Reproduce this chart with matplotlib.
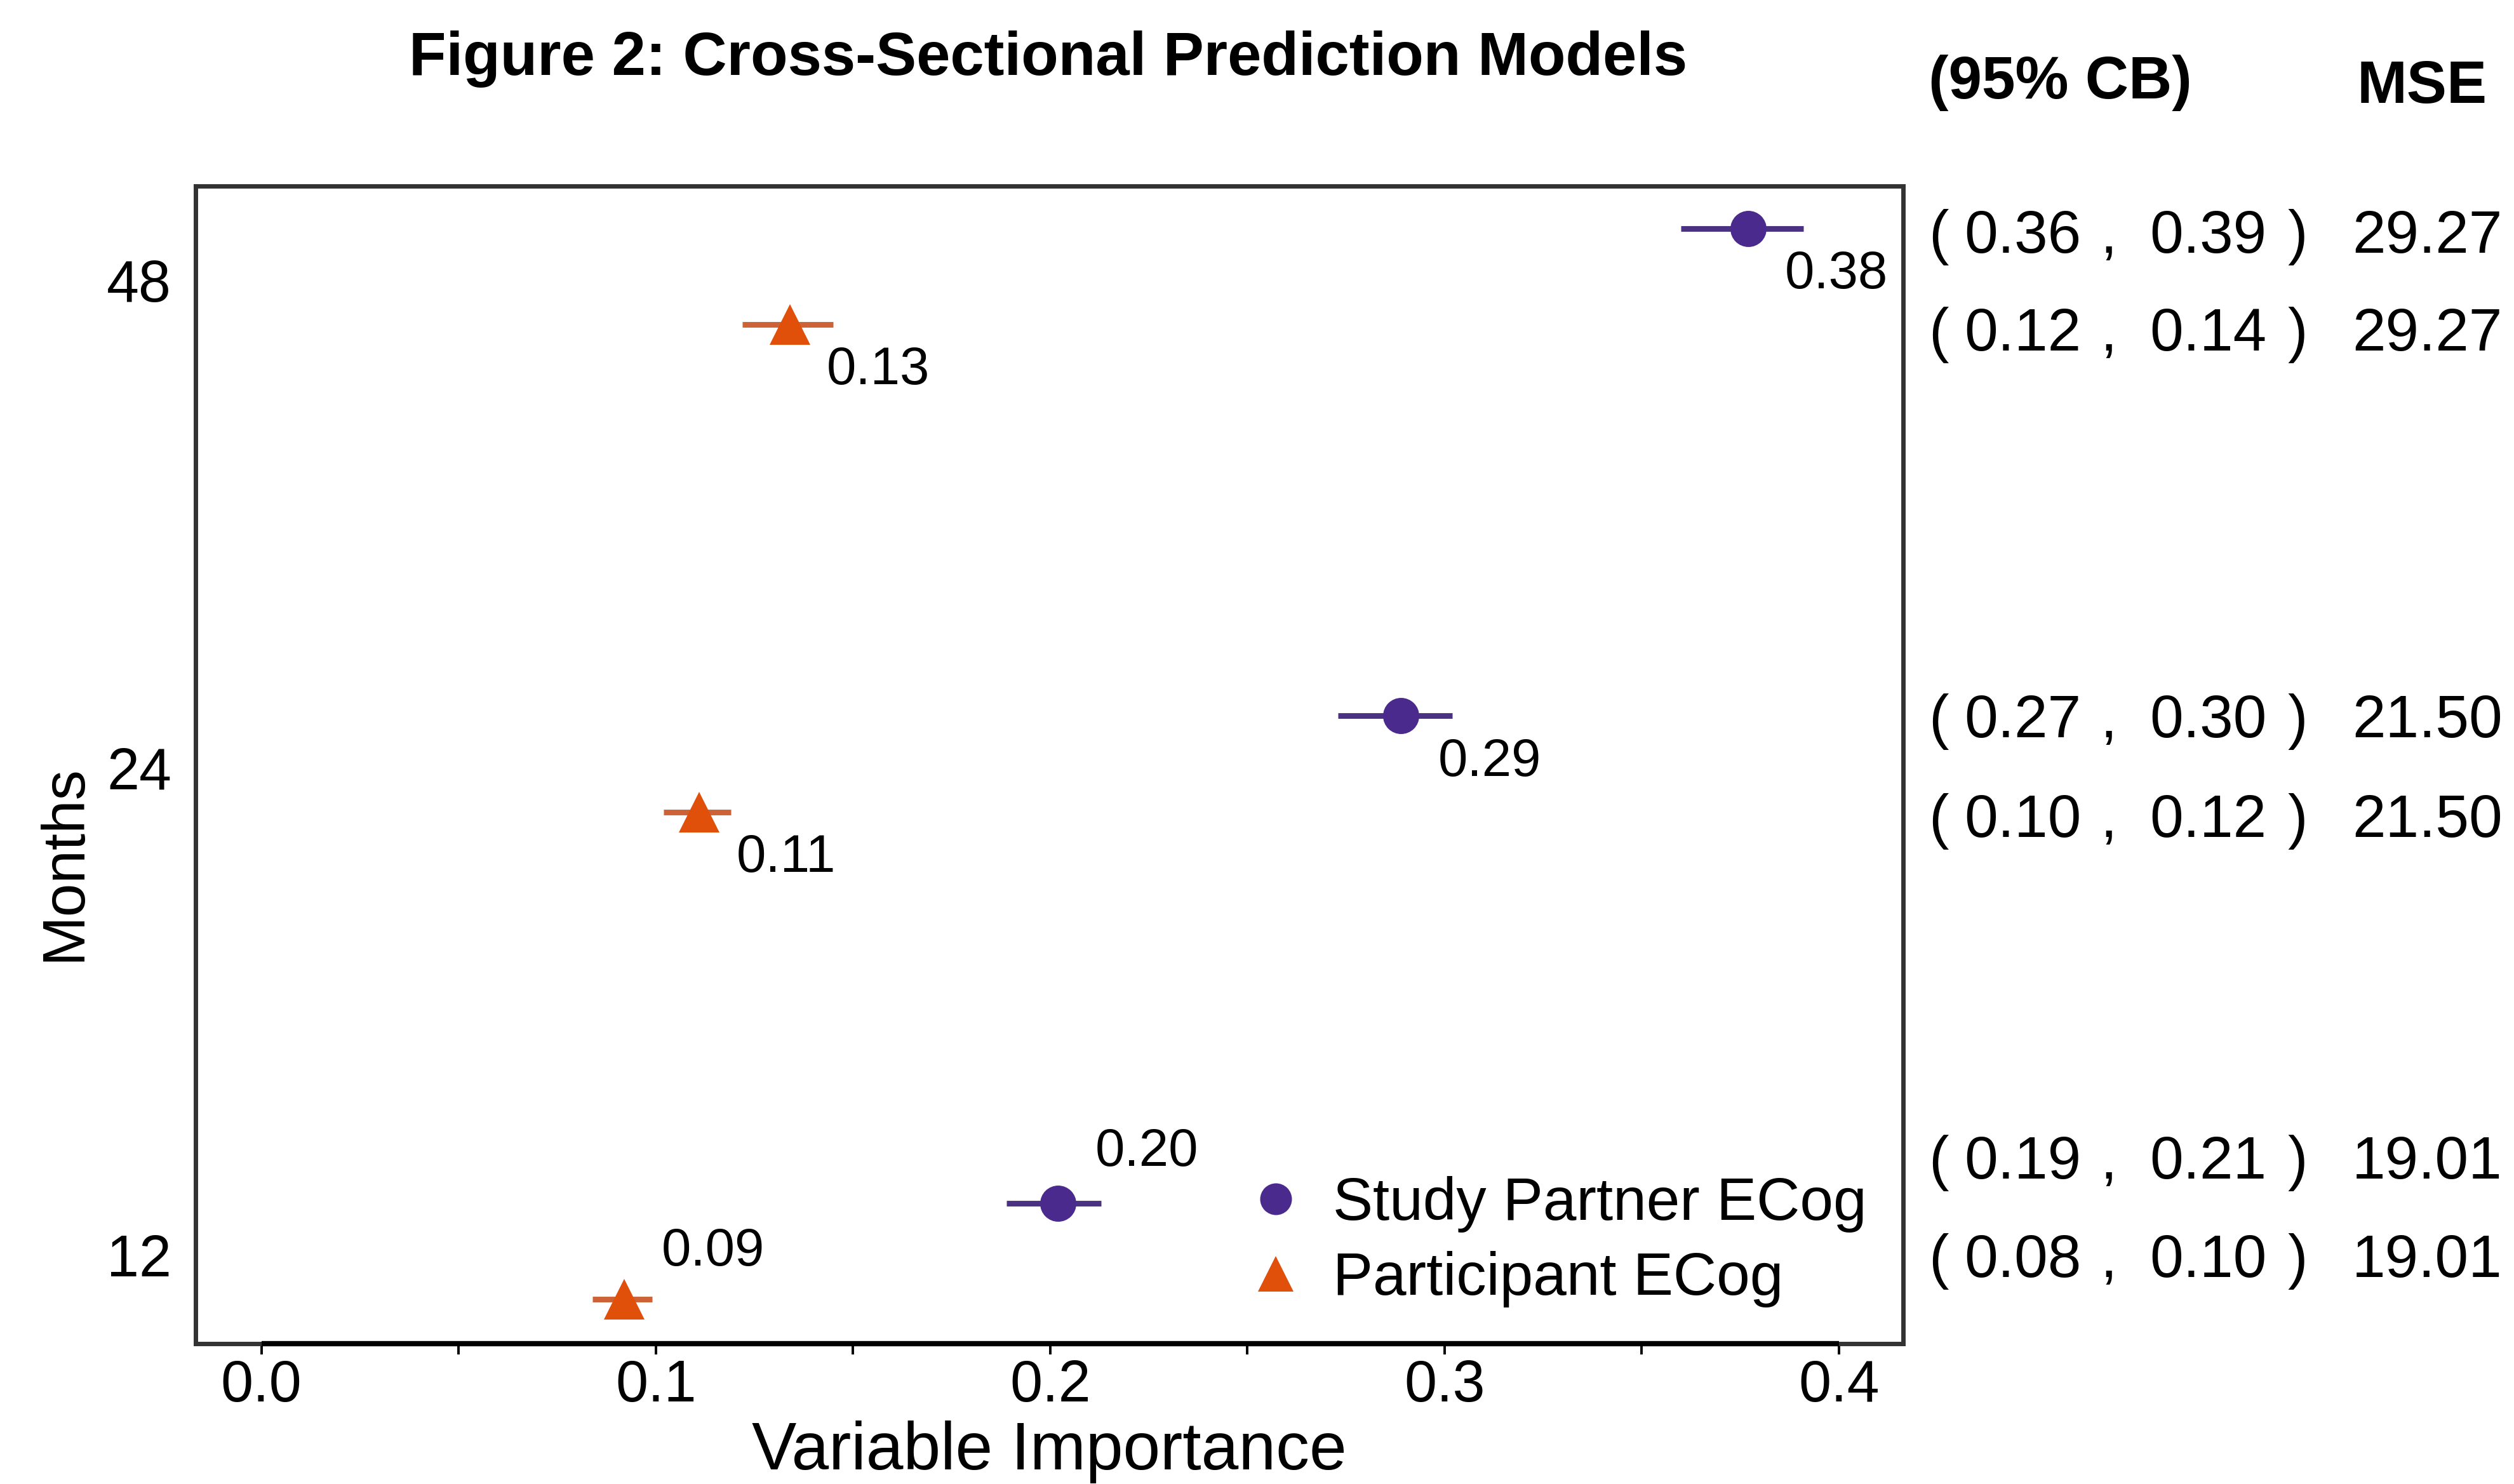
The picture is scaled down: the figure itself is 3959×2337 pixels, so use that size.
import matplotlib
matplotlib.use("Agg")
import matplotlib.pyplot as plt
import matplotlib.transforms as mtransforms
from matplotlib.lines import Line2D

plt.rcParams['font.family'] = ['Liberation Sans', 'DejaVu Sans']

# data
months = ['12', '24', '48']
partner_est = [0.202, 0.289, 0.377]
partner_lo = [0.189, 0.273, 0.360]
partner_hi = [0.213, 0.302, 0.391]
partner_lab = ['0.20', '0.29', '0.38']
partner_ci = [('0.19', '0.21'), ('0.27', '0.30'), ('0.36', '0.39')]

part_est = [0.092, 0.111, 0.134]
part_lo = [0.084, 0.102, 0.122]
part_hi = [0.099, 0.119, 0.145]
part_lab = ['0.09', '0.11', '0.13']
part_ci = [('0.08', '0.10'), ('0.10', '0.12'), ('0.12', '0.14')]

mse = ['19.01', '21.50', '29.27']

purple = '#4B2A8E'
purple_line = '#4A3182'
orange = '#E0500A'
orange_line = '#CC6236'

fig = plt.figure(figsize=(19.795, 11.685), dpi=200)
ax = fig.add_axes([0.0778, 0.0946, 0.757 - 0.0778, 0.8746 - 0.0946])

ypos = [1, 2, 3]
y_sp = [y + 0.107 for y in ypos]
y_p = [y - 0.09 for y in ypos]

ax.hlines(y_sp, partner_lo, partner_hi, color=purple_line, lw=3.2, zorder=2)
ax.hlines(y_p, part_lo, part_hi, color=orange_line, lw=3.2, zorder=2)
ax.plot(partner_est, y_sp, 'o', color=purple, ms=20.5, mew=0, ls='none', zorder=3)
ax.plot(part_est, y_p, '^', color=orange, ms=23, mew=0, ls='none', zorder=3)

# value labels (below-right, except 12 months above-right)
for i in range(3):
    dy_sp = 29 if i == 0 else -26
    dy_p = 27 if i == 0 else -26
    ax.annotate(partner_lab[i], (partner_est[i], y_sp[i]), xytext=(21, dy_sp),
                textcoords='offset points', ha='left', va='center', fontsize=30)
    ax.annotate(part_lab[i], (part_est[i], y_p[i]), xytext=(21, dy_p),
                textcoords='offset points', ha='left', va='center', fontsize=30)

ax.set_xlim(-0.0167, 0.4163)
ax.set_ylim(0.819, 3.194)
ax.set_xticks([0.0, 0.05, 0.1, 0.15, 0.2, 0.25, 0.3, 0.35, 0.4])
ax.set_xticklabels(['0.0', '', '0.1', '', '0.2', '', '0.3', '', '0.4'])
ax.set_yticks(ypos)
ax.set_yticklabels(months)
ax.tick_params(axis='x', length=6, width=1.4, pad=2.5, labelsize=33, color='black')
ax.tick_params(axis='y', length=0, pad=13.7, labelsize=33)

for s in ax.spines.values():
    s.set_color('#333333')
    s.set_linewidth(2.5)
# black axis line from 0 to 0.4 over the box
ax.plot([0.0, 0.4], [0, 0], color='black', lw=3, transform=ax.get_xaxis_transform(),
        clip_on=False, zorder=5, solid_capstyle='butt')

ax.set_xlabel('Variable Importance', fontsize=38, labelpad=4)
ax.set_ylabel('Months', fontsize=34)
ax.yaxis.set_label_coords(-0.060, 0.415)

handles = [Line2D([], [], marker='o', color=purple, ls='none', ms=18, mew=0),
           Line2D([], [], marker='^', color=orange, ls='none', ms=20, mew=0)]
ax.legend(handles, ['Study Partner ECog', 'Participant ECog'], loc='center left',
          bbox_to_anchor=(0.615, 0.088), frameon=False, fontsize=34,
          handlelength=1.0, handletextpad=0.45, labelspacing=0.3,
          borderpad=0, borderaxespad=0)

fig.text(0.417, 0.960, 'Figure 2: Cross-Sectional Prediction Models',
         fontsize=34.5, fontweight='bold', ha='center', va='center')
fig.text(0.7672, 0.944, '(95% CB)', fontsize=34, fontweight='bold', ha='left', va='center')
fig.text(0.9375, 0.941, 'MSE', fontsize=34, fontweight='bold', ha='left', va='center')

# right-hand table of confidence bounds and MSE
tr = mtransforms.blended_transform_factory(fig.transFigure, ax.transData)
row_y_sp = [1.19, 2.095, 3.089]
row_y_p = [0.987, 1.891, 2.888]
for i in range(3):
    for yy, ci in ((row_y_sp[i], partner_ci[i]), (row_y_p[i], part_ci[i])):
        kw = dict(transform=tr, fontsize=34, ha='left', va='center')
        fig.text(0.7672, yy, '(', **kw)
        fig.text(0.7813, yy, ci[0], **kw)
        fig.text(0.8355, yy, ',', **kw)
        fig.text(0.8552, yy, ci[1], **kw)
        fig.text(0.9100, yy, ')', **kw)
        fig.text(0.9356, yy, mse[i], **kw)

fig.savefig('out.png', dpi=200)
